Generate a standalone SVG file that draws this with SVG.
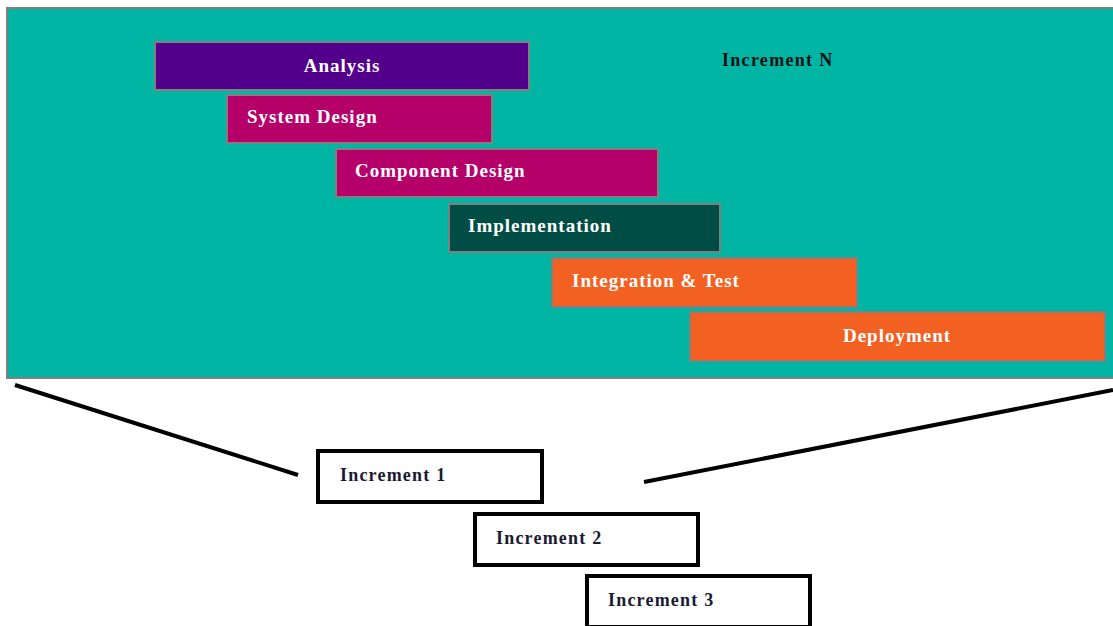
<svg xmlns="http://www.w3.org/2000/svg" width="1113" height="626" viewBox="0 0 1113 626">
<style>
.ph{stroke:#808080;stroke-width:2}
.lbl{font-family:"Liberation Serif",serif;font-weight:bold;font-size:19px;letter-spacing:1px;fill:#ffffff}
.inc{fill:#ffffff;stroke:#000000;stroke-width:4}
.itx{font-family:"Liberation Serif",serif;font-weight:bold;font-size:18px;letter-spacing:1.2px;fill:#1a1a33}
.conn{stroke:#000000;stroke-width:4;fill:none}
</style>
<rect width="1113" height="626" fill="#ffffff"/>
<g id="panel">
<rect x="7" y="8" width="1110" height="370" fill="#00b5a4" stroke="#808080" stroke-width="2"/>
<text x="722" y="66" font-family="Liberation Serif, serif" font-weight="bold" font-size="18" letter-spacing="1.3" fill="#111111">Increment N</text>
</g>
<g id="analysis"><rect class="ph" x="155" y="42" width="374" height="48" fill="#52008c"/><text class="lbl" x="342" y="72" text-anchor="middle">Analysis</text></g>
<g id="system-design"><rect class="ph" x="227" y="95" width="265" height="48" fill="#b5006a"/><text class="lbl" x="247" y="123">System Design</text></g>
<g id="component-design"><rect class="ph" x="336" y="149" width="322" height="48" fill="#b5006a"/><text class="lbl" x="355" y="177">Component Design</text></g>
<g id="implementation"><rect class="ph" x="449" y="204" width="271" height="48" fill="#004d45"/><text class="lbl" x="468" y="232">Implementation</text></g>
<g id="integration-test"><rect class="ph" x="552" y="258" width="305" height="49" fill="#f26122"/><text class="lbl" x="572" y="287">Integration &amp; Test</text></g>
<g id="deployment"><rect class="ph" x="690" y="312" width="415" height="49" fill="#f26122"/><text class="lbl" x="897" y="342" text-anchor="middle">Deployment</text></g>
<g id="connectors">
<line class="conn" x1="15" y1="385" x2="298" y2="475"/>
<line class="conn" x1="644" y1="482" x2="1113" y2="390"/>
</g>
<g id="increment-1"><rect class="inc" x="318" y="451" width="224" height="51"/><text class="itx" x="340" y="481">Increment 1</text></g>
<g id="increment-2"><rect class="inc" x="475" y="514" width="223" height="51"/><text class="itx" x="496" y="544">Increment 2</text></g>
<g id="increment-3"><rect class="inc" x="587" y="576" width="223" height="51"/><text class="itx" x="608" y="606">Increment 3</text></g>
</svg>
